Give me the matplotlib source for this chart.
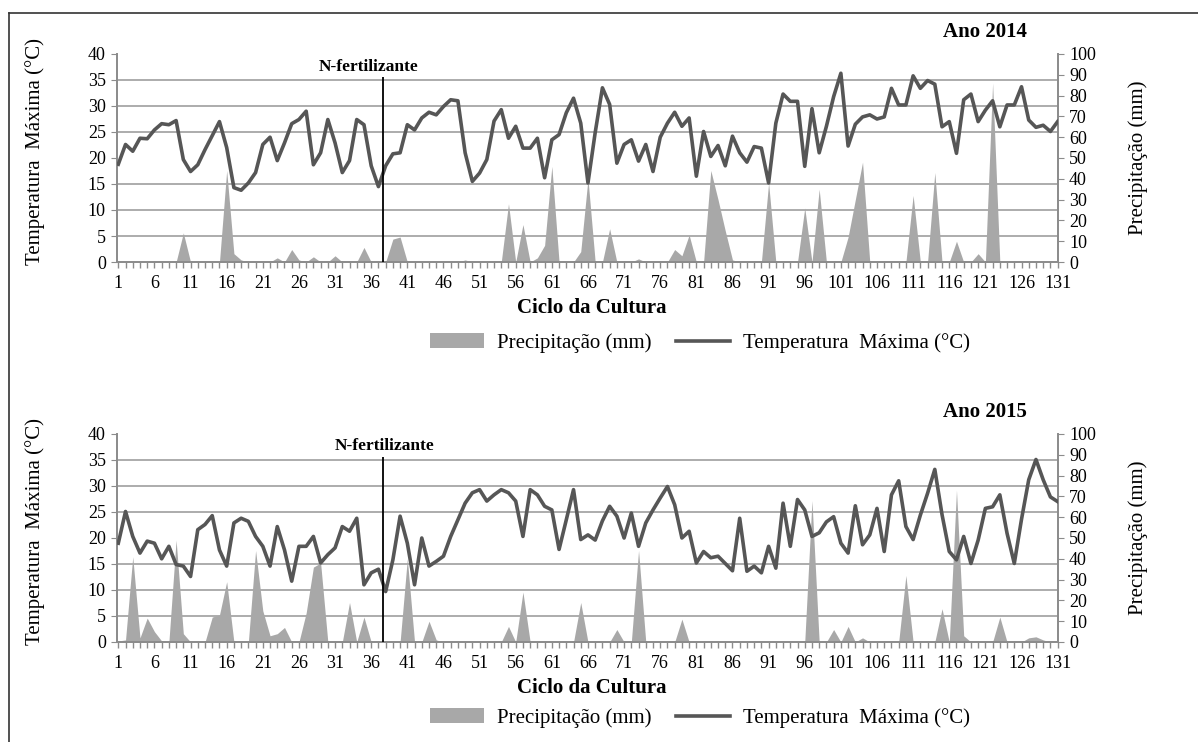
"""
Temperatura maxima e precipitacao ao longo do ciclo da cultura (2014 e 2015).
"""

import numpy as np
import matplotlib
matplotlib.use("Agg")
import matplotlib.pyplot as plt
from matplotlib.ticker import MultipleLocator, FixedLocator
from matplotlib.lines import Line2D
from matplotlib.patches import Patch

plt.rcParams['font.family'] = ['Liberation Serif', 'DejaVu Serif']

W, H = 1198, 742

days = np.arange(1, 132)
tick_days = np.arange(1, 132, 5)
n_fert_day = 37.6

temp_2014 = [
    18.8, 22.6, 21.3, 23.8, 23.7, 25.4, 26.6, 26.4, 27.2, 19.7,
    17.4, 18.7, 21.6, 24.3, 27.0, 22.0, 14.3, 13.8, 15.2, 17.2,
    22.6, 24.0, 19.5, 22.9, 26.6, 27.4, 29.0, 18.7, 21.0, 27.4,
    22.9, 17.2, 19.5, 27.4, 26.4, 18.5, 14.5, 18.5, 20.8, 21.0,
    26.4, 25.4, 27.7, 28.8, 28.3, 29.9, 31.2, 31.0, 21.0, 15.5,
    17.1, 19.7, 27.1, 29.3, 23.8, 26.1, 21.9, 21.9, 23.8, 16.2,
    23.5, 24.5, 28.7, 31.5, 26.7, 15.2, 24.9, 33.5, 30.3, 19.0,
    22.6, 23.5, 19.4, 22.6, 17.4, 24.0, 26.7, 28.8, 26.1, 27.7,
    16.5, 25.1, 20.3, 22.4, 18.5, 24.2, 21.0, 19.2, 22.2, 21.9,
    15.2, 26.7, 32.3, 30.9, 30.9, 18.4, 29.5, 21.0, 26.1, 31.8,
    36.3, 22.3, 26.5, 27.9, 28.3, 27.5, 27.9, 33.4, 30.2, 30.2,
    35.8, 33.4, 34.9, 34.2, 26.0, 27.0, 20.9, 31.2, 32.3, 27.0,
    29.2, 31.0, 26.0, 30.2, 30.2, 33.7, 27.3, 25.9, 26.3, 25.1,
    27.0,
]

prec_2014 = [
    0, 0, 0, 0, 0, 0, 0, 0, 0, 14,
    0, 0, 0, 0, 0, 44, 4, 1, 0, 0,
    0, 0, 2, 0, 6, 1, 0, 2.5, 0, 0,
    3, 0, 0, 0, 7, 0, 0, 0, 11, 12,
    0, 0, 0, 0, 0, 0, 0, 0, 1, 0,
    0, 0, 0, 0, 28, 0, 18, 0, 2, 8,
    46, 0, 0, 0, 5, 40, 0, 0, 16, 0,
    0, 0, 1.5, 0, 0, 0, 0, 6, 3, 13,
    0, 0, 44, 30, 15, 1, 0, 0, 0, 0,
    38, 0, 0, 0, 0, 26, 0, 35, 0, 0,
    0, 12, 30, 48, 0, 0, 0, 0, 0, 0,
    32, 0, 0, 43, 0, 0, 10, 0, 0, 4,
    0, 86, 0, 0, 0, 0, 0, 0, 0, 0,
    0,
]

temp_2015 = [
    19.0, 25.1, 20.3, 17.1, 19.4, 19.0, 16.0, 18.4, 14.9, 14.6,
    12.6, 21.6, 22.6, 24.3, 17.7, 14.6, 22.9, 23.8, 23.2, 20.3,
    18.4, 14.6, 22.2, 17.7, 11.7, 18.4, 18.4, 20.3, 15.2, 16.8,
    18.1, 22.2, 21.3, 23.8, 11.0, 13.3, 14.0, 9.7, 15.8, 24.2,
    19.0, 11.0, 20.0, 14.6, 15.5, 16.5, 20.3, 23.5, 26.7, 28.7,
    29.3, 27.1, 28.3, 29.3, 28.7, 27.1, 20.3, 29.3, 28.3, 26.1,
    25.4, 17.8, 23.5, 29.3, 19.7, 20.6, 19.6, 23.3, 26.1, 24.2,
    20.0, 24.8, 18.4, 22.9, 25.4, 27.7, 29.9, 26.4, 20.0, 21.3,
    15.2, 17.4, 16.2, 16.5, 15.1, 13.7, 23.8, 13.6, 14.6, 13.3,
    18.4, 14.2, 26.7, 18.4, 27.4, 25.4, 20.3, 21.0, 23.1, 24.1,
    19.0, 17.1, 26.2, 18.7, 20.6, 25.7, 17.4, 28.3, 31.0, 22.2,
    19.7, 24.4, 28.6, 33.2, 24.5, 17.4, 15.8, 20.3, 15.1, 19.6,
    25.7, 26.0, 28.3, 20.9, 15.1, 23.6, 31.2, 35.1, 31.2, 27.9,
    27.0,
]

prec_2015 = [
    0.5, 1, 41, 2, 11.5, 5, 0.5, 0, 49, 4,
    0, 0, 0, 12, 13, 29, 0, 0, 0, 44,
    15, 3, 4, 7, 0, 0, 14, 36, 38, 0,
    0, 0, 19, 0, 12, 0, 0, 0, 0, 0,
    40, 0, 0, 10, 1, 0, 0, 0, 0, 0,
    0, 0, 0, 0, 7.5, 0, 24, 0, 0, 0,
    0, 0, 0, 0, 19, 0, 0, 0, 0, 6,
    0, 0, 44, 0, 0, 0, 0, 0, 11, 0,
    0, 0, 0, 0, 0, 0, 0, 0, 0, 0,
    0, 0, 0, 0, 0, 0, 68, 0, 0, 6,
    0, 7.5, 0, 2, 0, 0, 0, 0, 0, 32,
    0, 0, 0, 0, 16, 0, 73, 3, 0, 0,
    0, 0, 12, 0, 0, 0, 2, 2.5, 1, 0,
    0,
]

LINE_C = '#565656'
AREA_C = '#a8a8a8'
GRID_C = '#a6a6a6'
AXIS_C = '#8c8c8c'


def fx(x):
    return x / W


def fy(y):
    return 1 - y / H


def draw_panel(fig, top_px, temp, prec, year):
    bottom_px = top_px + 208
    rect = [fx(117), fy(bottom_px), fx(1058) - fx(117), 208 / H]
    ax_p = fig.add_axes(rect)
    ax_t = ax_p.twinx()

    # precipitation area on the right scale, drawn behind
    ax_p.fill_between(days, 0, prec, color=AREA_C, linewidth=0, zorder=2)
    ax_p.set_ylim(0, 100)
    ax_p.yaxis.set_major_locator(MultipleLocator(10))
    ax_p.yaxis.set_minor_locator(MultipleLocator(12.5))
    ax_p.grid(which='minor', axis='y', color=GRID_C, linewidth=1.3, zorder=0)
    ax_p.set_axisbelow(True)
    ax_p.yaxis.tick_right()
    ax_p.yaxis.set_label_position('right')

    # temperature line on the left scale, drawn on top
    ax_t.plot(days, temp, color=LINE_C, linewidth=2.6, solid_joinstyle='round', zorder=3)
    ax_t.set_ylim(0, 40)
    ax_t.yaxis.set_major_locator(MultipleLocator(5))
    ax_t.yaxis.tick_left()
    ax_t.yaxis.set_label_position('left')
    ax_t.vlines(n_fert_day, 0, 35.6, color='black', linewidth=1.3, zorder=4)

    for ax in (ax_p, ax_t):
        ax.set_xlim(0.82, 131.05)
        ax.spines['top'].set_visible(False)
        for s in ('left', 'right', 'bottom'):
            ax.spines[s].set_color(AXIS_C)
            ax.spines[s].set_linewidth(1.3)
    ax_t.set_zorder(ax_p.get_zorder() + 1)
    ax_t.patch.set_visible(False)

    ax_p.xaxis.set_major_locator(FixedLocator(tick_days))
    ax_p.xaxis.set_minor_locator(MultipleLocator(1))
    ax_p.set_xticklabels([str(d) for d in tick_days])
    ax_p.tick_params(axis='x', which='both', length=4, width=1, color=AXIS_C,
                     labelsize=13, pad=5)
    ax_p.tick_params(axis='y', which='major', length=4, color=AXIS_C,
                     labelsize=13, pad=4)
    ax_p.tick_params(axis='y', which='minor', length=0)
    ax_t.tick_params(axis='y', length=4, color=AXIS_C, labelsize=13, pad=4)

    ax_t.set_ylabel('Temperatura  Máxima (°C)', fontsize=15)
    ax_t.yaxis.set_label_coords((45 - 117) / 941, 0.53)
    ax_p.set_ylabel('Precipitação (mm)', fontsize=15, rotation=90)
    ax_p.yaxis.set_label_coords((1128 - 117) / 941, 0.5)

    fig.text(fx(985), fy(top_px - 22), f'Ano {year}', fontsize=15,
             fontweight='bold', ha='center', va='center')
    fig.text(fx(592), fy(bottom_px + 46), 'Ciclo da Cultura', fontsize=15,
             fontweight='bold', ha='center', va='center')
    return ax_t, ax_p


fig = plt.figure(figsize=(W / 100, H / 100), dpi=100)

ax_t14, _ = draw_panel(fig, 54, temp_2014, prec_2014, 2014)
ax_t14.text(35.6, 37.5, 'N-fertilizante', fontsize=12.5, fontweight='bold',
            ha='center', va='center')

ax_t15, _ = draw_panel(fig, 434, temp_2015, prec_2015, 2015)
ax_t15.text(37.9, 37.7, 'N-fertilizante', fontsize=12.5, fontweight='bold',
            ha='center', va='center')

handles = [Patch(facecolor=AREA_C, edgecolor='none'),
           Line2D([0], [0], color=LINE_C, linewidth=2.6)]
labels = ['Precipitação (mm)', 'Temperatura  Máxima (°C)']
for y in (343, 718):
    fig.legend(handles, labels, loc='center', bbox_to_anchor=(fx(700), fy(y)),
               ncol=2, frameon=False, fontsize=15, handlelength=2.6,
               columnspacing=1.2, handletextpad=0.6)

# outer frame of the original figure
fig.add_artist(Line2D([fx(9), fx(9)], [0, fy(13)], color='#333333', linewidth=1.2))
fig.add_artist(Line2D([fx(9), 1], [fy(13), fy(13)], color='#333333', linewidth=1.2))

fig.savefig('out.png', dpi=100, facecolor='white')
